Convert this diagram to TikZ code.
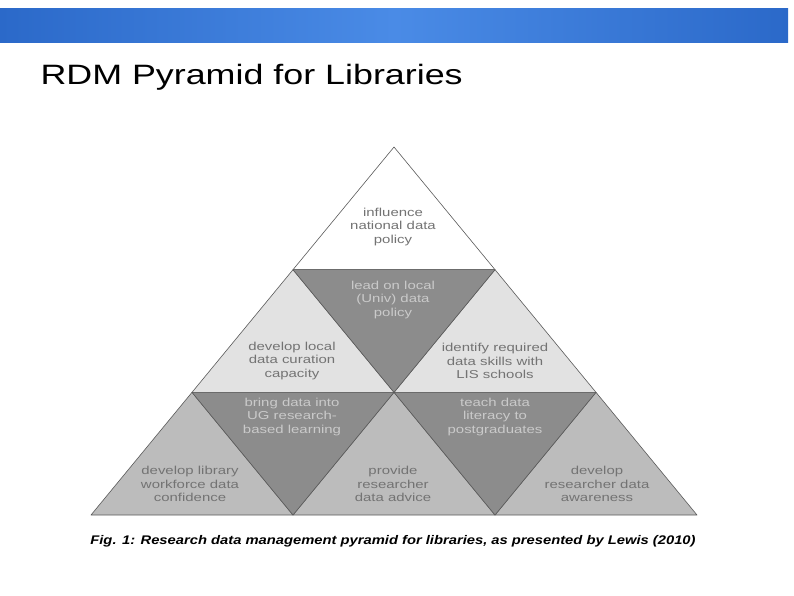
\documentclass[tikz,border=0pt]{standalone}
\usepackage{fontspec}
\setmainfont{Liberation Sans}
\usepackage{tikz}
\usetikzlibrary{positioning}
\definecolor{barblue}{HTML}{2B69C9}
\definecolor{barlight}{HTML}{4A8BE6}
\definecolor{tipwhite}{HTML}{FFFFFF}
\definecolor{rowlight}{HTML}{E2E2E2}
\definecolor{rowmid}{HTML}{BCBCBC}
\definecolor{rowdark}{HTML}{8C8C8C}
\definecolor{edgegray}{HTML}{5A5A5A}
\definecolor{txtgray}{HTML}{737373}
\definecolor{txtpale}{HTML}{CACACA}

\begin{document}
\begin{tikzpicture}[%
x=1pt, y=-1pt,
tri/.style={draw=edgegray, line width=0.6pt, line join=round},
label/.style={align=center, text=txtgray, xscale=1.3, font=\fontsize{11.5}{13.3}\selectfont},
label-dark/.style={label, text=txtpale}
]
\useasboundingbox (0,0) rectangle (794,595);
% header bar and title
\fill[left color=barblue, right color=barblue, middle color=barlight] (0,8) rectangle (788,42);
\node[anchor=base west, xscale=1.28, font=\fontsize{28}{30}\selectfont] (title) at (36,84) {RDM Pyramid for Libraries};
% lattice points of the pyramid
\foreach \r in {0,...,3}
  \foreach \k in {0,...,\r}
    \coordinate (p\r\k) at ({394+101*(2*\k-\r)},{147+122.67*\r});
% upright triangles
\filldraw[tri, fill=tipwhite] (p00) -- (p10) -- (p11) -- cycle;
\filldraw[tri, fill=rowlight] (p10) -- (p20) -- (p21) -- cycle;
\filldraw[tri, fill=rowlight] (p11) -- (p21) -- (p22) -- cycle;
\filldraw[tri, fill=rowmid] (p20) -- (p30) -- (p31) -- cycle;
\filldraw[tri, fill=rowmid] (p21) -- (p31) -- (p32) -- cycle;
\filldraw[tri, fill=rowmid] (p22) -- (p32) -- (p33) -- cycle;
% inverted triangles
\filldraw[tri, fill=rowdark] (p10) -- (p11) -- (p21) -- cycle;
\filldraw[tri, fill=rowdark] (p20) -- (p21) -- (p31) -- cycle;
\filldraw[tri, fill=rowdark] (p21) -- (p22) -- (p32) -- cycle;
% labels
\node[label] (national) at (393,227) {influence\\national data\\policy};
\node[label-dark] (local) at (393,300) {lead on local\\(Univ) data\\policy};
\node[label] (curation) at (292,361) {develop local\\data curation\\capacity};
\node[label] (skills) at (495,361) {identify required\\data skills with\\LIS schools};
\node[label-dark] (ugdata) at (292,417) {bring data into\\UG research-\\based learning};
\node[label-dark] (literacy) at (495,417) {teach data\\literacy to\\postgraduates};
\node[label] (workforce) at (190,484) {develop library\\workforce data\\confidence};
\node[label] (advice) at (393,484) {provide\\researcher\\data advice};
\node[label] (awareness) at (597,484) {develop\\researcher data\\awareness};
% caption
\node[xscale=1.18, font=\fontsize{12.5}{14}\selectfont\bfseries\itshape] (caption) at (393,541) {Fig. 1: Research data management pyramid for libraries, as presented by Lewis (2010)};
\end{tikzpicture}
\end{document}
